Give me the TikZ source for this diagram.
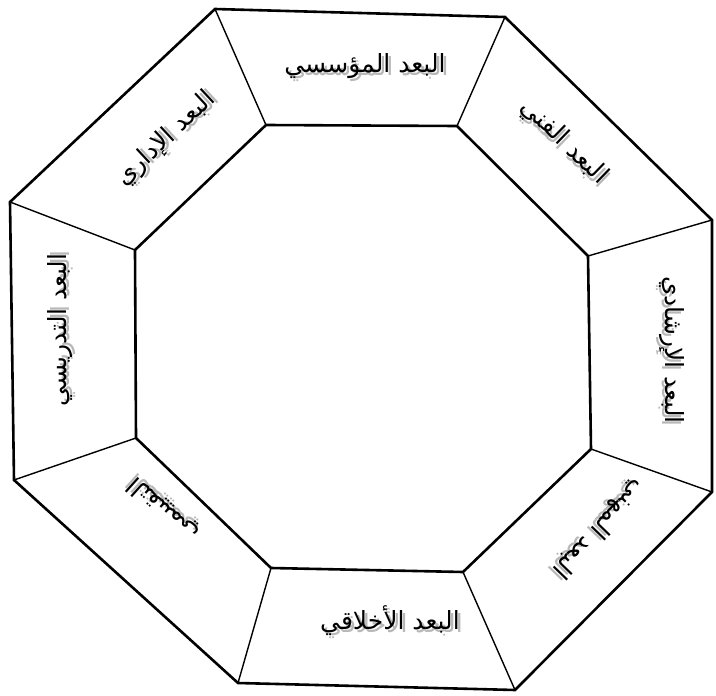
\documentclass[tikz,border=0pt]{standalone}
\usepackage{fontspec}
\newfontfamily\arabicfont[Script=Arabic]{DejaVu Sans}
\TeXXeTstate=1
\newcommand\shtxt[1]{\leavevmode\rlap{\kern3pt\raisebox{-3pt}{\color{black!28}\beginR#1\endR}}\beginR#1\endR}
\begin{document}
\begin{tikzpicture}[x=1pt,y=-1pt,
  octa/.style={line width=2.6pt, line join=miter},
  spoke/.style={line width=1.4pt},
  lbl/.style={font=\arabicfont\fontsize{25}{30}\selectfont, inner sep=0pt}]
\useasboundingbox (0,0) rectangle (716,696);
% outer vertices
\coordinate (o1) at (215,9);
\coordinate (o2) at (505,17);
\coordinate (o3) at (712,220);
\coordinate (o4) at (712,492);
\coordinate (o5) at (515,690);
\coordinate (o6) at (238,683);
\coordinate (o7) at (14,480);
\coordinate (o8) at (10,202);
% inner vertices
\coordinate (i1) at (266,125);
\coordinate (i2) at (457,126);
\coordinate (i3) at (588,256);
\coordinate (i4) at (591,449);
\coordinate (i5) at (463,572);
\coordinate (i6) at (271,568);
\coordinate (i7) at (136,438);
\coordinate (i8) at (135,250);
\draw[octa] (o1)--(o2)--(o3)--(o4)--(o5)--(o6)--(o7)--(o8)--cycle;
\draw[octa] (i1)--(i2)--(i3)--(i4)--(i5)--(i6)--(i7)--(i8)--cycle;
\foreach \k in {1,...,8}{\draw[spoke] (o\k)--(i\k);}
% labels
\node[lbl] (t1) at (365,68) {\shtxt{البعد المؤسسي}};
\node[lbl, rotate=-44] (t2) at (563,143) {\shtxt{البعد الفني}};
\node[lbl, rotate=-90] (t3) at (670,350) {\shtxt{البعد الإرشادي}};
\node[lbl, rotate=-134] (t4) at (598,528) {\shtxt{البعد المهني}};
\node[lbl] (t5) at (390,622) {\shtxt{البعد الأخلاقي}};
\node[lbl, rotate=138] (t6) at (165,508) {\shtxt{التقييمي}};
\node[lbl, rotate=90] (t7) at (62,330) {\shtxt{البعد التدريسي}};
\node[lbl, rotate=43] (t8) at (167,140) {\shtxt{البعد الإداري}};
\end{tikzpicture}
\end{document}
